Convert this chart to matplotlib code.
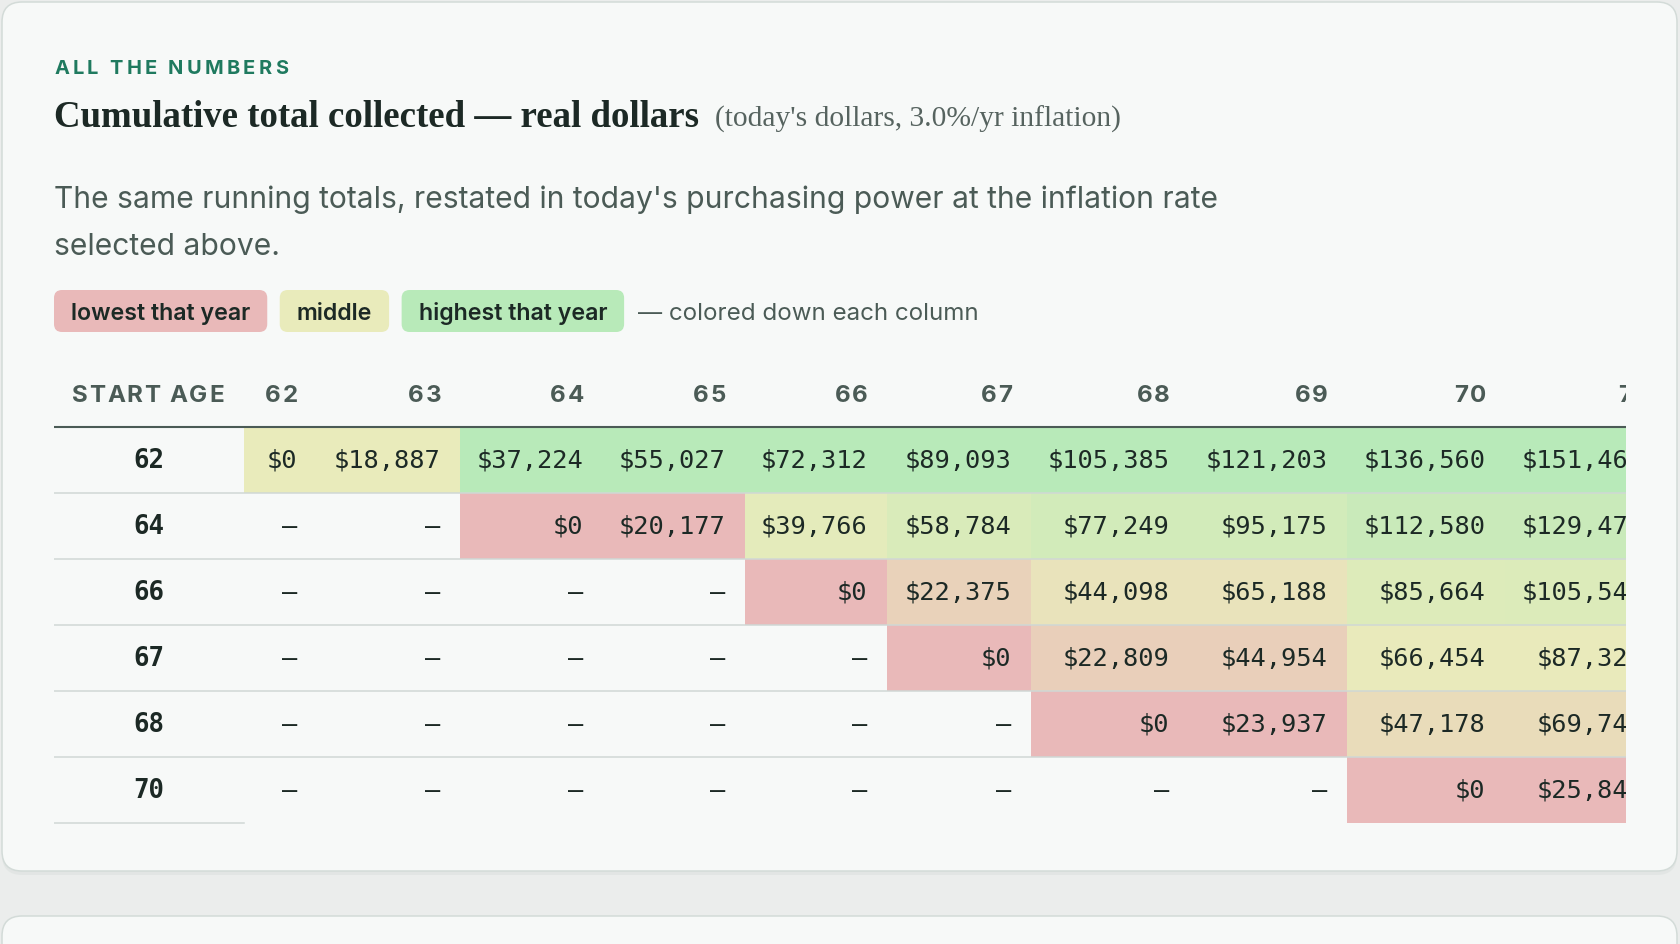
import matplotlib
matplotlib.use('Agg')
import matplotlib.pyplot as plt
from matplotlib import font_manager
from matplotlib.colors import LinearSegmentedColormap
from matplotlib.patches import FancyBboxPatch, Rectangle
from matplotlib.ft2font import FT2Font

W, H, DPI = 1680, 944, 100

# --- data -------------------------------------------------------------
START_AGES = [62, 64, 66, 67, 68, 70]
CLAIM_AGES = [62, 63, 64, 65, 66, 67, 68, 69, 70, 71]
ROW_62 = [0, 18887, 37224, 55027, 72312, 89093, 105385, 121203, 136560, 151466]
ROW_64 = [None, None, 0, 20177, 39766, 58784, 77249, 95175, 112580, 129478]
ROW_66 = [None, None, None, None, 0, 22375, 44098, 65188, 85664, 105544]
ROW_67 = [None, None, None, None, None, 0, 22809, 44954, 66454, 87328]
ROW_68 = [None, None, None, None, None, None, 0, 23937, 47178, 69742]
ROW_70 = [None, None, None, None, None, None, None, None, 0, 25845]
ROWS = [ROW_62, ROW_64, ROW_66, ROW_67, ROW_68, ROW_70]
LEGEND_LABELS = ['lowest that year', 'middle', 'highest that year']

# --- style ------------------------------------------------------------
PAGE_BG = '#ebedec'
CARD_BG = '#f7f9f8'
CARD_EDGE = '#d3dbd8'
INK = '#1c2925'
MUTED = '#4b5b56'
ACCENT = '#1f7a5f'
LOW, MID, HIGH = '#e9b9b9', '#e9ebbb', '#b8eab9'
SANS = ['Inter', 'DejaVu Sans']
SERIF = ['Liberation Serif', 'DejaVu Serif']
MONO = ['DejaVu Sans Mono']

COL_W = [73, 143.5, 143, 142, 142, 144, 158, 158, 158, 158]
LABEL_L, LABEL_R = 53.6, 244
CLIP_R = 1625.7
HEADER_BASE = 402
HEADER_LINE = 427
ROW_H = 66
TEXT_DROP = 7.8   # baseline offset below the row middle

fig = plt.figure(figsize=(W / DPI, H / DPI), dpi=DPI, facecolor=PAGE_BG)
ax = fig.add_axes([0, 0, 1, 1])
ax.set_xlim(0, W)
ax.set_ylim(H, 0)
ax.axis('off')
renderer = fig.canvas.get_renderer()


def fit_text(axis, x, y, s, width, **kw):
    """Draw text and rescale it so its width matches the given pixel width."""
    t = axis.text(x, y, s, **kw)
    w = t.get_window_extent(renderer).width
    t.set_fontsize(t.get_fontsize() * width / w)
    return t


def char_advances(s, family, weight, size):
    prop = font_manager.FontProperties(family=family, weight=weight, size=size)
    font = FT2Font(font_manager.findfont(prop))
    font.set_size(size, DPI)
    return [font.load_char(ord(c)).linearHoriAdvance / 65536 for c in s]


def tracked(axis, x, y, s, size, family, weight, tracking=None, width=None,
            ha='left', **kw):
    """Letter-spaced text, drawn one glyph at a time."""
    adv = char_advances(s, family, weight, size)
    if tracking is None:
        tracking = (width - sum(adv)) / max(len(s) - 1, 1)
    total = sum(adv) + tracking * (len(s) - 1)
    pen = x if ha == 'left' else x - total
    for c, a in zip(s, adv):
        axis.text(pen + a / 2, y, c, ha='center', va='baseline', fontsize=size,
                  family=family, weight=weight, **kw)
        pen += a + tracking
    return tracking


# --- cards ------------------------------------------------------------
ax.add_patch(FancyBboxPatch((2, 6), 1675, 869, boxstyle='round,pad=0,rounding_size=20',
                            fc='#dfe3e1', ec='none', alpha=0.7, zorder=0))
ax.add_patch(FancyBboxPatch((2, 2), 1675, 869, boxstyle='round,pad=0,rounding_size=20',
                            fc=CARD_BG, ec=CARD_EDGE, lw=1.1, zorder=1))
ax.add_patch(FancyBboxPatch((2, 916), 1675, 120, boxstyle='round,pad=0,rounding_size=20',
                            fc=CARD_BG, ec=CARD_EDGE, lw=1.1, zorder=1))

# --- headings ---------------------------------------------------------
tracked(ax, 54, 73.5, 'ALL THE NUMBERS', 14.4, SANS, 'bold', width=234,
        color=ACCENT, zorder=3)
fit_text(ax, 54, 127, 'Cumulative total collected \u2014 real dollars', 646,
         fontsize=26, family=SERIF, weight='bold', color=INK, va='baseline', zorder=3)
fit_text(ax, 715, 127, "(today's dollars, 3.0%/yr inflation)", 406,
         fontsize=19, family=SERIF, color='#56635f', va='baseline', zorder=3)
desc = fit_text(ax, 53.6, 207.5,
                "The same running totals, restated in today's purchasing power at the inflation rate",
                1161, fontsize=20, family=SANS, color=MUTED, va='baseline', zorder=3)
ax.text(53.6, 255, 'selected above.', fontsize=desc.get_fontsize(), family=SANS,
        color=MUTED, va='baseline', zorder=3)

# --- legend chips -----------------------------------------------------
probe = fit_text(ax, 0, -100, LEGEND_LABELS[0], 180, fontsize=16, family=SANS,
                 weight='semibold')
chip_size = probe.get_fontsize()
probe.remove()
x = 54
for label, color in zip(LEGEND_LABELS, [LOW, MID, HIGH]):
    t = ax.text(x + 17, 320, label, fontsize=chip_size, family=SANS,
                weight='semibold', color=INK, va='baseline', zorder=4)
    w = t.get_window_extent(renderer).width + 34
    ax.add_patch(FancyBboxPatch((x, 290), w, 42, boxstyle='round,pad=0,rounding_size=8',
                                fc=color, ec='none', zorder=3))
    x += w + 12.5
fit_text(ax, x + 1, 320, '\u2014 colored down each column', 342, fontsize=16,
         family=SANS, color=MUTED, va='baseline', zorder=3)

# --- table ------------------------------------------------------------
top, bottom = 370, 835
tax = fig.add_axes([LABEL_L / W, 1 - bottom / H, (CLIP_R - LABEL_L) / W, (bottom - top) / H])
tax.set_xlim(LABEL_L, CLIP_R)
tax.set_ylim(bottom, top)
tax.axis('off')

cmap = LinearSegmentedColormap.from_list('low_mid_high', [LOW, MID, HIGH])
col_right = []
edge = LABEL_R
for w in COL_W:
    edge += w
    col_right.append(edge)

head_size = 17.4
track = tracked(tax, 71.7, HEADER_BASE, 'START AGE', head_size, SANS, 'bold',
                width=152, color=MUTED, clip_on=True)
for age, right in zip(CLAIM_AGES, col_right):
    tracked(tax, right - 19.5, HEADER_BASE, str(age), head_size, SANS, 'bold',
            tracking=track, ha='right', color=MUTED, clip_on=True)

for j, age in enumerate(CLAIM_AGES):
    col = [row[j] for row in ROWS if row[j] is not None]
    lo, hi = min(col), max(col)
    for i, row in enumerate(ROWS):
        v = row[j]
        y0 = HEADER_LINE + i * ROW_H
        if v is not None:
            frac = 0.5 if hi == lo else (v - lo) / (hi - lo)
            tax.add_patch(Rectangle((col_right[j] - COL_W[j], y0), COL_W[j], ROW_H,
                                    fc=cmap(frac), ec='none', zorder=1))
            s = f'${v:,.0f}'
        else:
            s = '\u2013'
        tax.text(col_right[j] - 20, y0 + ROW_H / 2 + TEXT_DROP, s, ha='right',
                 va='baseline', fontsize=18.3, family=MONO, color=INK, zorder=3,
                 clip_on=True)

for i, age in enumerate(START_AGES):
    y0 = HEADER_LINE + i * ROW_H
    tax.text((LABEL_L + LABEL_R) / 2, y0 + ROW_H / 2 + TEXT_DROP, str(age), ha='center',
             va='baseline', fontsize=18.5, family=MONO, weight='bold', color=INK, zorder=3)
    if i > 0:
        tax.plot([LABEL_L, col_right[-1]], [y0, y0], color='#d0d8d5', lw=1.1, zorder=2)

tax.plot([LABEL_L, col_right[-1]], [HEADER_LINE, HEADER_LINE], color=MUTED, lw=1.5, zorder=2)
last = HEADER_LINE + len(START_AGES) * ROW_H
tax.plot([LABEL_L, LABEL_R], [last, last], color='#d0d8d5', lw=1.1, zorder=2)

fig.savefig('out.png', dpi=DPI, facecolor=PAGE_BG)
